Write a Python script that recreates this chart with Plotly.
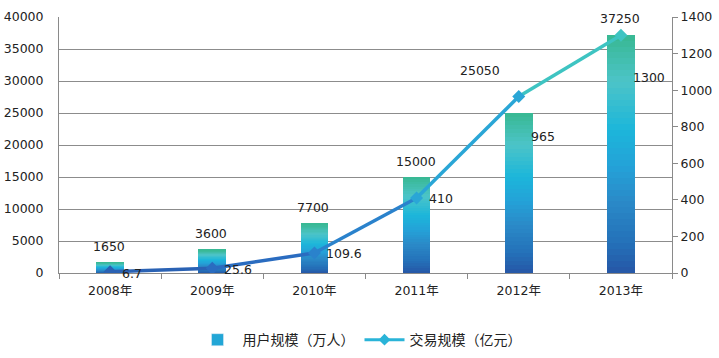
import plotly.graph_objects as go
from plotly.colors import sample_colorscale

years = ["2008年", "2009年", "2010年", "2011年", "2012年", "2013年"]
users = [1650, 3600, 7700, 15000, 25050, 37250]          # 用户规模（万人）
trade = [6.7, 25.6, 109.6, 410, 965, 1300]               # 交易规模（亿元）
user_labels = ["1650", "3600", "7700", "15000", "25050", "37250"]
trade_labels = ["6.7", "25.6", "109.6", "410", "965", "1300"]
left_ticks = [0, 5000, 10000, 15000, 20000, 25000, 30000, 35000, 40000]
left_ticktext = ["0", "5000", "10000", "15000", "20000", "25000", "30000", "35000", "40000"]
right_ticks = [0, 200, 400, 600, 800, 1000, 1200, 1400]
right_ticktext = ["0", "200", "400", "600", "800", "1000", "1200", "1400"]

bar_scale = [[0.0, "#2656a6"], [0.12, "#2470b8"], [0.3, "#2a8ac8"],
             [0.45, "#24a2d8"], [0.6, "#1cb6da"], [0.8, "#4cc4c8"], [1.0, "#38b892"]]
line_colors = ["#2a62b4", "#2a6cc0", "#2a82cc", "#2aa6d6", "#3ec4c2"]
FONT = "DejaVu Sans, Noto Sans CJK SC, sans-serif"

fig = go.Figure()

N = 40
cols = sample_colorscale(bar_scale, [(i + 0.5) / N for i in range(N)])
for i in range(N):
    fig.add_trace(go.Bar(
        x=years, y=[v / N for v in users], marker=dict(color=cols[i], line=dict(width=0)),
        width=0.27, showlegend=False, hoverinfo="skip", yaxis="y"))

# legend entries
fig.add_trace(go.Bar(x=[None], y=[None], name="用户规模（万人）",
                     marker=dict(color="#22a6d6"), showlegend=True))
fig.add_trace(go.Scatter(x=[None], y=[None], name="交易规模（亿元）", mode="lines+markers",
                         line=dict(color="#2ab4d8", width=3),
                         marker=dict(symbol="diamond", size=9, color="#2ab4d8"),
                         yaxis="y2", showlegend=True))

for i in range(len(years) - 1):
    fig.add_trace(go.Scatter(
        x=years[i:i + 2], y=trade[i:i + 2], mode="lines", yaxis="y2",
        line=dict(color=line_colors[i], width=3.5), showlegend=False, hoverinfo="skip"))
mcols = [line_colors[0], line_colors[1], line_colors[2], line_colors[3], line_colors[3], line_colors[4]]
fig.add_trace(go.Scatter(x=years, y=trade, mode="markers", yaxis="y2",
                         marker=dict(symbol="diamond", size=10, color=mcols),
                         showlegend=False, hoverinfo="skip"))

# bar labels
ushift = [(0, 16), (0, 16), (0, 16), (0, 16), (-38, 42), (0, 16)]
for yr, v, t, (dx, dy) in zip(years, users, user_labels, ushift):
    fig.add_annotation(x=yr, y=v, yref="y", text=t, showarrow=False,
                       xshift=dx - 1, yshift=dy, font=dict(size=12.5, color="#222"))
# line labels
tshift = [(0, -2), (0, -1), (0, -1), (0, 0), (0, -40), (0, -42)]
for yr, v, t, (dx, dy) in zip(years, trade, trade_labels, tshift):
    fig.add_annotation(x=yr, y=v, yref="y2", text=t, showarrow=False, xanchor="left",
                       xshift=10 + dx, yshift=dy, font=dict(size=12.5, color="#222"))

fig.update_layout(
    width=719, height=358, barmode="stack", bargap=0.73,
    margin=dict(l=59, r=47, t=17, b=85, autoexpand=False),
    paper_bgcolor="white", plot_bgcolor="white",
    font=dict(family=FONT, size=12.5, color="#222"),
    xaxis=dict(showline=True, linecolor="#8a8a8a", linewidth=1, ticks="outside",
               tickson="boundaries", ticklen=5, tickcolor="#8a8a8a", automargin=False,
               ticklabelstandoff=6, showgrid=False, tickfont=dict(size=12.5)),
    yaxis=dict(range=[0, 40000], tickvals=left_ticks, ticktext=left_ticktext,
               showline=True, linecolor="#8a8a8a", automargin=False,
               gridcolor="#8c8c8c", gridwidth=1, zeroline=False, ticks="",
               ticklabelstandoff=12, tickfont=dict(size=12.5)),
    yaxis2=dict(range=[0, 1400], tickvals=right_ticks, ticktext=right_ticktext,
                overlaying="y", side="right", automargin=False,
                showline=True, linecolor="#8a8a8a", ticks="outside", ticklen=5,
                tickcolor="#8a8a8a", showgrid=False, zeroline=False, tickfont=dict(size=12.5)),
    legend=dict(orientation="h", x=0.5, xanchor="center", xref="container",
                y=0.05, yanchor="middle", yref="container",
                font=dict(size=14), itemwidth=40, traceorder="normal"),
)

fig.write_html("out.html", config={"displayModeBar": False},
               post_script="document.body.style.margin='0';")
